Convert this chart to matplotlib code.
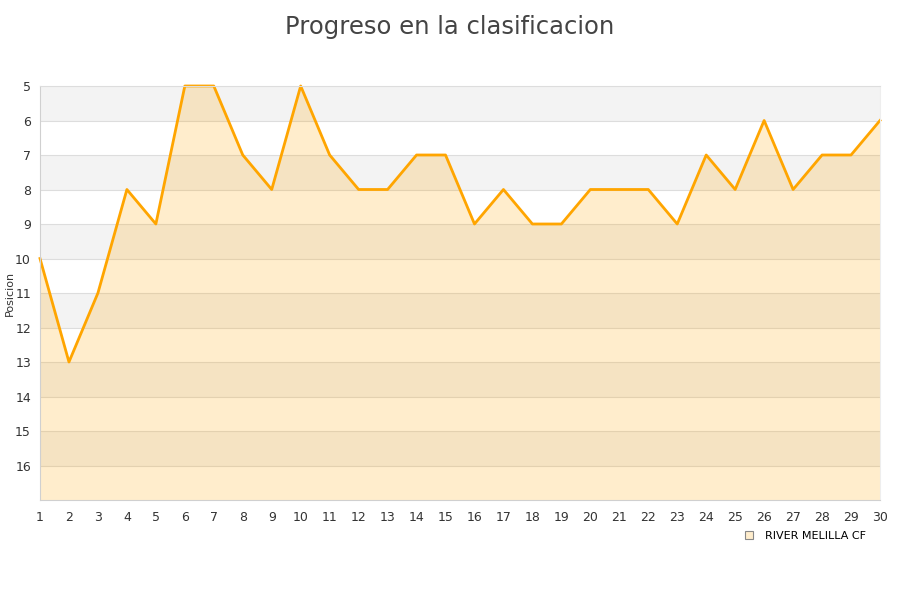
import matplotlib
matplotlib.use('Agg')
import matplotlib.pyplot as plt
from matplotlib.lines import Line2D

jornadas = list(range(1, 31))
posiciones = [10, 13, 11, 8, 9, 5, 5, 7, 8, 5, 7, 8, 8, 7, 7, 9, 8, 9, 9, 8, 8, 8, 9, 7, 8, 6, 8, 7, 7, 6]
equipo = 'RIVER MELILLA CF'

fig = plt.figure(figsize=(9, 6), dpi=100)
ax = fig.add_axes([40/900, 1 - 500/600, 840/900, 414/600])

# bandas alternas
for y in range(5, 17):
    if (y - 5) % 2 == 0:
        ax.axhspan(y, y + 1, color='#f3f3f3', zorder=0, lw=0)
for y in range(6, 17):
    ax.axhline(y, color='#dddddd', lw=0.8, zorder=0.5)

ax.fill_between(jornadas, posiciones, 17, color='#ffa500', alpha=0.2, lw=0, zorder=1)
ax.plot(jornadas, posiciones, color='#ffa500', lw=2, zorder=2, clip_on=False)

ax.set_xlim(1, 30)
ax.set_ylim(17, 5)
ax.set_xticks(jornadas)
ax.set_yticks(range(5, 17))
ax.tick_params(axis='both', length=0, labelsize=9, colors='#333333')
ax.tick_params(axis='x', pad=8)
ax.tick_params(axis='y', pad=6.5)
for s in ['left', 'bottom']:
    ax.spines[s].set_color('#d0d0d0')
ax.spines['top'].set_color('#dddddd')
ax.spines['top'].set_linewidth(0.8)
ax.spines['right'].set_color('#eeeeee')

fig.text(10/900, 1 - 293/600, 'Posicion', rotation=90, ha='center', va='center', fontsize=8, color='#333333')
fig.text(0.5, 0.975, 'Progreso en la clasificacion', ha='center', va='top', fontsize=17.5, color='#444444')

handle = Line2D([], [], marker='s', ls='none', markersize=6, markerfacecolor='#ffedcc', markeredgecolor='#888888', markeredgewidth=0.8)
fig.legend([handle], [equipo], loc='center', bbox_to_anchor=(802/900, 1 - 536/600), frameon=False, fontsize=8, handletextpad=0.5)

fig.savefig('out.png', dpi=100)
